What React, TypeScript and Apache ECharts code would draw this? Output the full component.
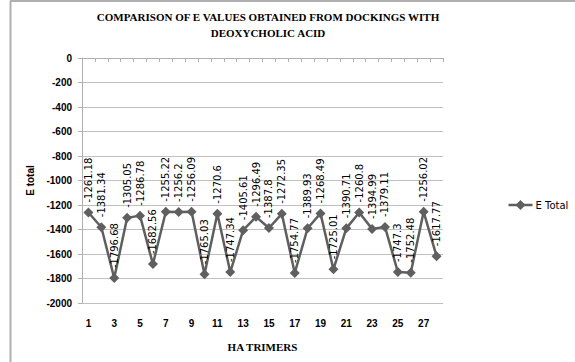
import React, { useEffect, useRef } from "react";
import * as echarts from "echarts";

const categories = [
  "1", "2", "3", "4", "5", "6", "7", "8", "9", "10", "11", "12", "13", "14",
  "15", "16", "17", "18", "19", "20", "21", "22", "23", "24", "25", "26", "27", "28",
];
const eTotal = [
  -1261.18, -1381.34, -1796.68, -1305.05, -1286.78, -1682.56, -1255.22, -1256.2,
  -1256.09, -1765.03, -1270.6, -1747.34, -1405.61, -1296.49, -1387.8, -1272.35,
  -1754.77, -1389.93, -1268.49, -1725.01, -1390.71, -1260.8, -1394.99, -1379.11,
  -1747.3, -1752.48, -1256.02, -1617.77,
];
const titleLines = ["COMPARISON OF E VALUES OBTAINED FROM DOCKINGS WITH", "DEOXYCHOLIC ACID"];
const seriesName = "E Total";

export default function App() {
  const ref = useRef<HTMLDivElement>(null);
  useEffect(() => {
    const chart = echarts.init(ref.current!, undefined, { renderer: "svg" });
    const lineColor = "#5f5f5f";
    const titleStyle = {
      fontFamily: "Liberation Serif",
      fontWeight: "bold",
      fontSize: 11,
      color: "#000",
    };
    chart.setOption({
      animation: false,
      backgroundColor: "#ffffff",
      title: [
        { text: titleLines[0], left: 268, top: 11, padding: 0, textAlign: "center", textStyle: titleStyle },
        { text: titleLines[1], left: 268, top: 27, padding: 0, textAlign: "center", textStyle: titleStyle },
      ],
      grid: { left: 82, right: 132, top: 58, bottom: 59, containLabel: false },
      xAxis: [
        {
          type: "category",
          data: categories,
          position: "bottom",
          boundaryGap: true,
          axisLine: { show: false },
          axisTick: { show: false },
          axisLabel: {
            interval: 1,
            margin: 15,
            fontFamily: "Liberation Sans",
            fontWeight: "bold",
            fontSize: 10,
            color: "#000",
          },
          name: "HA TRIMERS",
          nameLocation: "middle",
          nameGap: 38,
          nameTextStyle: titleStyle,
        },
        {
          type: "category",
          data: categories,
          position: "top",
          boundaryGap: true,
          axisLine: { show: true, lineStyle: { color: "#b0b0b0", width: 1 } },
          axisTick: { show: true, inside: true, interval: 0, length: 4, lineStyle: { color: "#b0b0b0" } },
          axisLabel: { show: false },
        },
      ],
      yAxis: {
        type: "value",
        min: -2000,
        max: 0,
        interval: 200,
        axisLine: { show: true, lineStyle: { color: "#b0b0b0" } },
        axisTick: { show: true, length: 4, lineStyle: { color: "#b0b0b0" } },
        splitLine: { show: true, lineStyle: { color: "#c0c0c0", width: 1 } },
        axisLabel: {
          margin: 10,
          formatter: (v: number) => String(v),
          fontFamily: "Liberation Sans",
          fontWeight: "bold",
          fontSize: 10,
          color: "#000",
        },
        name: "E total",
        nameLocation: "middle",
        nameGap: 44,
        nameRotate: 90,
        nameTextStyle: {
          fontFamily: "Liberation Sans",
          fontWeight: "bold",
          fontSize: 10,
          color: "#000",
        },
      },
      series: [
        {
          name: seriesName,
          type: "line",
          data: eTotal,
          symbol: "diamond",
          symbolSize: 10,
          showAllSymbol: true,
          lineStyle: { color: lineColor, width: 2.5 },
          itemStyle: { color: lineColor },
          labelLayout: { hideOverlap: false },
          label: {
            show: true,
            position: "top",
            rotate: 90,
            align: "left",
            verticalAlign: "middle",
            distance: 5,
            fontFamily: "DejaVu Sans",
            fontSize: 10,
            color: "#000",
          },
        },
      ],
      graphic: [
        { type: "line", shape: { x1: 10, y1: 1, x2: 575, y2: 1 }, style: { stroke: "#b0b0b0", lineWidth: 2 } },
        { type: "line", shape: { x1: 10.5, y1: 1, x2: 10.5, y2: 362 }, style: { stroke: "#b0b0b0", lineWidth: 2 } },
        {
          type: "group",
          left: 506,
          top: 200,
          children: [
            { type: "line", shape: { x1: 0, y1: 5, x2: 24, y2: 5 }, style: { stroke: lineColor, lineWidth: 2.5 } },
            { type: "polygon", shape: { points: [[12, 0], [17, 5], [12, 10], [7, 5]] }, style: { fill: lineColor } },
            {
              type: "text",
              x: 27,
              y: 5,
              style: {
                text: seriesName,
                fontFamily: "DejaVu Sans",
                fontSize: 10,
                fill: "#000",
                verticalAlign: "middle",
              },
            },
          ],
        },
      ],
    });
    return () => chart.dispose();
  }, []);
  return <div ref={ref} style={{ width: 575, height: 362, position: "absolute", left: 0, top: 0 }} />;
}
